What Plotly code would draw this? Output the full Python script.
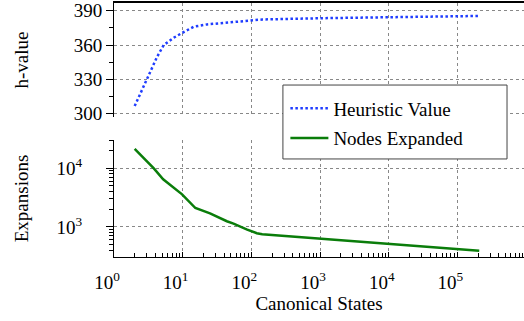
import plotly.graph_objects as go

# Data
states_h = [2.0, 3.04, 4.25, 5.3, 7.4, 10, 14.5, 22.6, 55, 144, 1000, 10000, 100000, 208000]
h_value = [306.7, 330, 349.8, 360, 366.4, 370.8, 376, 378, 380, 382.3, 383.4, 384.5, 385, 385.4]

states_n = [2.0, 3.8, 5.2, 9.8, 15.3, 25, 44, 55, 87, 120, 144, 1000, 10000, 100000, 208000]
expansions = [21400, 10000, 6500, 3600, 2100, 1700, 1250, 1140, 900, 780, 750, 630, 515, 415, 390]

x_tick_vals = [1, 10, 100, 1000, 10000, 100000]
x_tick_text = ["10<sup>0</sup>", "10<sup>1</sup>", "10<sup>2</sup>", "10<sup>3</sup>", "10<sup>4</sup>", "10<sup>5</sup>"]
e_tick_vals = [1000, 10000]
e_tick_text = ["10<sup>3</sup>", "10<sup>4</sup>"]
h_ticks = [300, 330, 360, 390]

FONT = "Times New Roman, Liberation Serif"
BLUE = "#1f3dff"
GREEN = "#0a7d0a"
TF = dict(family=FONT, size=19, color="black")

fig = go.Figure()
fig.add_trace(go.Scatter(
    x=states_h, y=h_value, mode="lines", name="Heuristic Value",
    line=dict(color=BLUE, width=2.5, dash="2.5px,2.5px"),
    xaxis="x2", yaxis="y2", legendgroup="a",
))
fig.add_trace(go.Scatter(
    x=states_n, y=expansions, mode="lines", name="Nodes Expanded",
    line=dict(color=GREEN, width=2.5),
    xaxis="x", yaxis="y", legendgroup="b",
))

grid = dict(showgrid=True, gridcolor="#888888", griddash="dot", gridwidth=1, automargin=False)

fig.update_layout(
    width=524, height=321,
    margin=dict(l=113.5, r=0, t=3, b=64),
    paper_bgcolor="white", plot_bgcolor="white",
    font=TF,
    showlegend=True,
    legend=dict(
        x=0.418, y=0.66, xanchor="left", yanchor="top",
        bgcolor="rgba(0,0,0,0)", borderwidth=0, itemwidth=38,
        font=TF,
        tracegroupgap=2,
    ),
    shapes=[dict(type="rect", xref="paper", yref="paper",
                 x0=0.412, x1=0.9586, y0=0.386, y1=0.677,
                 fillcolor="white", line=dict(color="#444444", width=1), layer="above")],
    xaxis=dict(
        type="log", range=[0, 5.97], domain=[0, 1], anchor="y",
        tickvals=x_tick_vals, ticktext=x_tick_text, tickfont=TF,
        ticklabelstandoff=8, ticklabelshift=-7,
        ticks="inside", ticklen=5, tickcolor="black",
        showline=True, linecolor="black", linewidth=1,
        minor=dict(dtick="D1", ticks="inside", ticklen=4, tickcolor="black", showgrid=False),
        title=dict(text="Canonical States", standoff=2, font=TF),
        **grid,
    ),
    yaxis=dict(
        type="log", range=[2.486, 4.485], domain=[0, 0.461], anchor="x",
        tickvals=e_tick_vals, ticktext=e_tick_text, tickfont=TF,
        ticklabelstandoff=20,
        ticks="outside", ticklen=7, tickcolor="black",
        showline=True, linecolor="black", linewidth=1,
        minor=dict(dtick="D1", ticks="outside", ticklen=4, tickcolor="black", showgrid=False),
        title=dict(text="Expansions", standoff=22, font=TF),
        **grid,
    ),
    xaxis2=dict(
        type="log", range=[0, 5.97], domain=[0, 1], anchor="y2", side="top",
        matches="x", tickvals=x_tick_vals, showticklabels=False, ticks="",
        showline=True, linecolor="black", linewidth=1.5,
        **grid,
    ),
    yaxis2=dict(
        range=[297.1, 396.7], domain=[0.551, 1], anchor="x2",
        tickvals=h_ticks, tickfont=TF, ticks="outside", ticklen=7, tickcolor="black",
        showline=True, linecolor="black", linewidth=1,
        minor=dict(dtick=15, ticks="outside", ticklen=4, tickcolor="black", showgrid=False),
        title=dict(text="h-value", standoff=40, font=TF),
        zeroline=False,
        **grid,
    ),
)

fig.write_html("out.html", config={"displayModeBar": False},
               post_script="document.body.style.margin='0';document.body.style.padding='0';")
